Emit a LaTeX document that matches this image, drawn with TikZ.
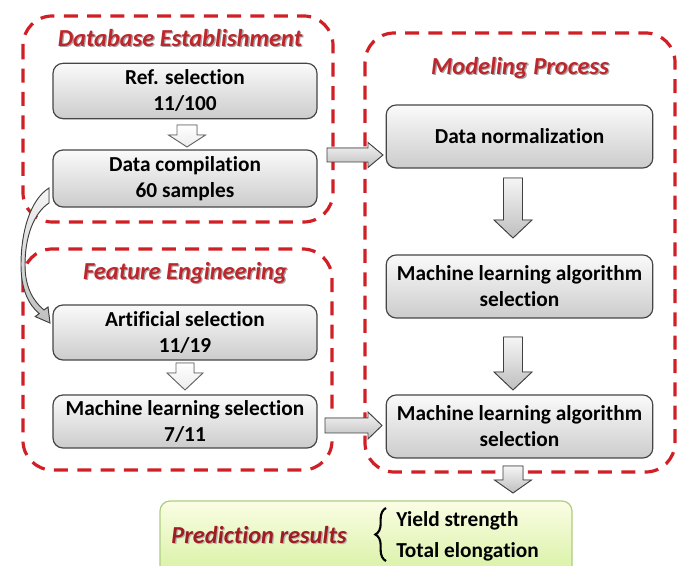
\documentclass[tikz,border=0pt]{standalone}
\usepackage{fontspec}
\setmainfont{Carlito}[Ligatures=NoCommon]
\usetikzlibrary{calc,decorations.pathreplacing}
\definecolor{dashred}{RGB}{208,32,38}
\definecolor{titlered}{RGB}{190,38,44}
\definecolor{predred}{RGB}{160,28,34}
\definecolor{boxline}{RGB}{70,70,70}
\definecolor{predfillA}{RGB}{250,253,228}
\definecolor{predfillB}{RGB}{214,240,158}
\definecolor{predline}{RGB}{175,205,130}
\tikzset{
  groupbox/.style={draw=dashred, line width=2.4pt, dash pattern=on 10.5pt off 7pt, rounded corners=22pt},
  stepbox/.style={draw=boxline, line width=0.9pt, rounded corners=7.5pt, top color=gray!4, bottom color=gray!40,
     align=center, font=\bfseries\fontsize{16}{19.5}\selectfont, inner sep=0pt},
  grouptitle/.style={font=\bfseries\itshape\fontsize{18.3}{20}\selectfont, text=titlered, inner sep=0pt},
  titleshadow/.style={font=\bfseries\itshape\fontsize{18.3}{20}\selectfont, text=black!35, inner sep=0pt},
  barrow/.style={draw=black!75, line width=0.7pt, top color=gray!8, bottom color=gray!50},
  hollowarrow/.style={draw=black!60, line width=0.7pt, top color=white, bottom color=gray!15},
  predbox/.style={draw=predline, line width=0.9pt, rounded corners=7.5pt, top color=predfillA, bottom color=predfillB},
  plain/.style={font=\bfseries\fontsize{16}{19.5}\selectfont, inner sep=0pt},
}
\newcommand\BArrowR[7][barrow]{% x0 x1 yc bodyhalf headhalf headlen
  \filldraw[#1] (#2,#4-#5) -- (#3-#7,#4-#5) -- (#3-#7,#4-#6) -- (#3,#4) -- (#3-#7,#4+#6) -- (#3-#7,#4+#5) -- (#2,#4+#5) -- cycle;}
\newcommand\BArrowD[7][barrow]{% xc y0 y1 bodyhalf headhalf headlen
  \filldraw[#1] (#2-#5,#3) -- (#2+#5,#3) -- (#2+#5,#4-#7) -- (#2+#6,#4-#7) -- (#2,#4) -- (#2-#6,#4-#7) -- (#2-#5,#4-#7) -- cycle;}
\begin{document}
\begin{tikzpicture}[x=0.75pt,y=-0.75pt]
\clip (0,0) rectangle (686,566);
\fill[white] (0,0) rectangle (686,566);

% group frames
\draw[groupbox] (23,16) rectangle (333,222);
\draw[groupbox] (23,249) rectangle (332,470);
\draw[groupbox] (365,33) rectangle (675,472);

% titles
\node[titleshadow] at (181.3,39.3) {Database Establishment};
\node[grouptitle] (t1) at (180,38) {Database Establishment};
\node[titleshadow] at (186.3,274.3) {Feature Engineering};
\node[grouptitle] (t2) at (185,273) {Feature Engineering};
\node[titleshadow] at (521.3,69.3) {Modeling Process};
\node[grouptitle] (t3) at (520,68) {Modeling Process};

% left column boxes
\node[stepbox, minimum width=198pt, minimum height=41.5pt] (ref) at (185,91) {Ref. selection\\11/100};
\node[stepbox, minimum width=198pt, minimum height=42.75pt] (dc) at (185,178.5) {Data compilation\\60 samples};
\node[stepbox, minimum width=198pt, minimum height=41.25pt] (as) at (185,332.5) {Artificial selection\\11/19};
\node[stepbox, minimum width=198pt, minimum height=39.75pt] (mls) at (185,421.5) {Machine learning selection\\7/11};

% right column boxes
\node[stepbox, minimum width=200pt, minimum height=47.25pt] (dn) at (519.5,136.5) {Data normalization};
\node[stepbox, minimum width=200pt, minimum height=47.25pt] (mla1) at (519.5,286.5) {Machine learning algorithm\\selection};
\node[stepbox, minimum width=200pt, minimum height=47.25pt] (mla2) at (519.5,426.5) {Machine learning algorithm\\selection};

% small hollow arrows
\BArrowD[hollowarrow]{187}{125}{147}{10}{18.5}{12}
\BArrowD[hollowarrow]{185}{363}{390}{9}{18}{17}

% big arrows in modeling column
\BArrowD{513}{178}{238}{9.5}{19}{18}
\BArrowD{513}{337}{390}{9.5}{19}{18}
\BArrowD{513}{466}{493}{10}{18.5}{13}

% right arrows
\BArrowR{327}{383}{155}{7}{12.5}{15}
\BArrowR{325}{382}{425.5}{7.5}{13.5}{14}

% curved arrow
\filldraw[barrow] (49,188) .. controls (30,200) and (21,232) .. (21,265)
  .. controls (21,290) and (29,305) .. (39.2,313.6) -- (35.2,316.6) -- (50,323) -- (48,307) -- (44,310)
  .. controls (33,301) and (25,287) .. (25,265) .. controls (25,236) and (34,213) .. (49,203) -- cycle;

% prediction results
\node[predbox, minimum width=309pt, minimum height=60pt] (pred) at (366,541) {};
\node[font=\bfseries\itshape\fontsize{18.3}{20}\selectfont, text=black!30, inner sep=0pt] at (260.3,536.3) {Prediction results};
\node[font=\bfseries\itshape\fontsize{18.3}{20}\selectfont, text=predred, inner sep=0pt] (pr) at (259,535) {Prediction results};
\draw[decorate, decoration={brace, amplitude=8pt}, line width=1.6pt] (386,561) -- (386,508);
\node[plain, anchor=west] (ys) at (396,521) {Yield strength};
\node[plain, anchor=west] (te) at (396,552) {Total elongation};
\end{tikzpicture}
\end{document}
